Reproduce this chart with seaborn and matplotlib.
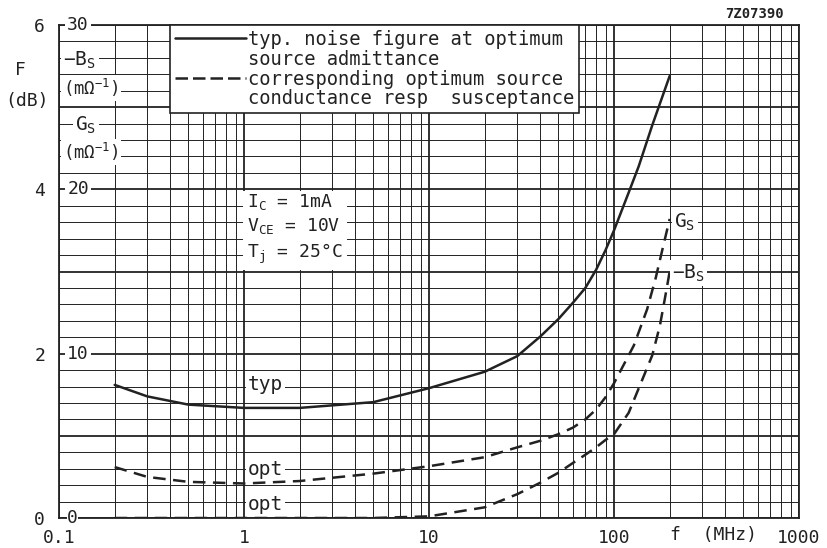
import numpy as np
import pandas as pd
import matplotlib
matplotlib.use("Agg")
import matplotlib.pyplot as plt
from matplotlib.lines import Line2D
from matplotlib.ticker import FixedLocator, NullFormatter, FixedFormatter
import seaborn as sns

# ---- data ----
freq_typ = [0.2, 0.3, 0.5, 1, 2, 5, 10, 20, 30, 40, 50, 60, 70, 80, 90, 100, 120, 136, 161, 200]
F_typ = [1.62, 1.48, 1.38, 1.34, 1.34, 1.41, 1.58, 1.78, 1.97, 2.21, 2.42, 2.62, 2.80, 3.02,
         3.26, 3.50, 3.96, 4.28, 4.78, 5.38]

freq_gs = [0.2, 0.3, 0.5, 1, 2, 5, 10, 20, 30, 40, 50, 60, 70, 80, 90, 100, 128, 151, 168, 185, 200]
Gs = [3.1, 2.5, 2.2, 2.1, 2.25, 2.7, 3.15, 3.7, 4.3, 4.7, 5.1, 5.5, 6.0, 6.6, 7.35, 8.2,
      10.5, 12.7, 14.6, 16.6, 18.2]

freq_bs = [0.2, 1, 5, 10, 20, 30, 40, 50, 60, 70, 80, 90, 100, 120, 142, 161, 177, 188, 200]
Bs = [0.0, 0.0, 0.0, 0.1, 0.65, 1.45, 2.15, 2.75, 3.35, 3.85, 4.3, 4.75, 5.1, 6.4, 8.4,
      9.9, 11.7, 13.3, 15.0]

x_ticks = [0.1, 1, 10, 100, 1000]
x_tick_labels = ["0.1", "1", "10", "100", "1000"]
F_grid = [0, 1, 2, 3, 4, 5, 6]
F_labels = ["0", "", "2", "", "4", "", "6"]
G_ticks = [0, 10, 20, 30]

sns.set_theme(style="white")
MONO = "DejaVu Sans Mono"
plt.rcParams["font.family"] = [MONO, "DejaVu Sans"]
plt.rcParams["mathtext.fontset"] = "custom"
plt.rcParams["mathtext.rm"] = MONO
plt.rcParams["mathtext.it"] = MONO
plt.rcParams["mathtext.bf"] = MONO

fig = plt.figure(figsize=(8.28, 5.48), dpi=100)
ax = fig.add_axes([59 / 828, 30 / 548, 740 / 828, 493 / 548])
ax2 = ax.twinx()

ink = "#222222"
FS = 13

ax.set_xscale("log")

# curves
sns.lineplot(x=freq_typ, y=F_typ, ax=ax, color=ink, lw=1.8, zorder=5)
sns.lineplot(x=freq_gs, y=Gs, ax=ax2, color=ink, lw=1.8, linestyle=(0, (5, 3)), zorder=5)
sns.lineplot(x=freq_bs, y=Bs, ax=ax2, color=ink, lw=1.8, linestyle=(0, (5, 3)), zorder=5)
ax.set_xlim(0.1, 1000)
ax.set_ylim(0, 6)
ax2.set_ylim(0, 30)
ax.set_xlabel("")
ax.set_ylabel("")
ax2.set_ylabel("")

# grid
ax.xaxis.set_major_locator(FixedLocator(x_ticks))
ax.xaxis.set_major_formatter(FixedFormatter(x_tick_labels))
ax.xaxis.set_minor_locator(FixedLocator([m * 10.0 ** e for e in range(-1, 3) for m in range(2, 10)]))
ax.xaxis.set_minor_formatter(NullFormatter())
ax.yaxis.set_major_locator(FixedLocator(F_grid))
ax.yaxis.set_major_formatter(FixedFormatter(F_labels))
ax.yaxis.set_minor_locator(FixedLocator([i * 0.2 for i in range(31)]))
ax.yaxis.set_minor_formatter(NullFormatter())
ax.grid(which="major", color=ink, lw=1.3)
ax.grid(which="minor", color=ink, lw=0.7)
ax.set_axisbelow(True)
ax.tick_params(axis="both", which="both", length=0, labelsize=FS, colors=ink)
ax.tick_params(axis="x", pad=8)
ax.tick_params(axis="y", pad=10)
for s in ax.spines.values():
    s.set_color(ink)
    s.set_linewidth(1.3)
ax2.set_yticks([])
for s in ax2.spines.values():
    s.set_visible(False)

wb = dict(facecolor="white", edgecolor="none", pad=1.5)

# inner G/B scale labels
for v in G_ticks:
    ax2.text(0.011, v, str(v), transform=ax2.get_yaxis_transform(), ha="left", va="center",
             fontsize=FS, color=ink, zorder=6,
             bbox=dict(facecolor="white", edgecolor="none", pad=0 if v == 0 else 1.5))

# axis titles
fig.text(20 / 828, 1 - 70 / 548, "F", ha="center", va="center", fontsize=FS, color=ink)
fig.text(27 / 828, 1 - 101 / 548, "(dB)", ha="center", va="center", fontsize=FS, color=ink)
ax.text(0.006, 1 - 35 / 493, "$-$B$_S$", transform=ax.transAxes, ha="left", va="center",
        fontsize=FS + 1, color=ink, bbox=wb, zorder=6)
ax.text(0.006, 1 - 63 / 493, "(m$\\Omega^{-1}$)", transform=ax.transAxes, ha="left", va="center",
        fontsize=FS - 0.5, color=ink, bbox=wb, zorder=6)
ax.text(0.022, 1 - 100 / 493, "G$_S$", transform=ax.transAxes, ha="left", va="center",
        fontsize=FS + 1, color=ink, bbox=wb, zorder=6)
ax.text(0.006, 1 - 127 / 493, "(m$\\Omega^{-1}$)", transform=ax.transAxes, ha="left", va="center",
        fontsize=FS - 0.5, color=ink, bbox=wb, zorder=6)

# conditions box
ax.text((247 - 59) / 740, 1 - (192 - 25) / 493,
        "I$_C$ = 1mA\nV$_{CE}$ = 10V\nT$_j$ = 25\u00b0C",
        transform=ax.transAxes, ha="left", va="top", fontsize=FS, color=ink,
        linespacing=1.3, bbox=dict(facecolor="white", edgecolor="none", pad=3), zorder=6)

# curve labels
ax.text(1.05, 1.62, "typ", ha="left", va="center", fontsize=FS + 1, color=ink, bbox=wb, zorder=6)
ax.text(1.05, 0.59, "opt", ha="left", va="center", fontsize=FS + 1, color=ink, bbox=wb, zorder=6)
ax.text(1.05, 0.17, "opt", ha="left", va="center", fontsize=FS + 1, color=ink, bbox=wb, zorder=6)
ax2.text(212, 18.0, "G$_S$", ha="left", va="center", fontsize=FS + 1, color=ink, bbox=wb, zorder=6)
ax2.text(205, 14.9, "$-$B$_S$", ha="left", va="center", fontsize=FS + 1, color=ink, bbox=wb, zorder=6)

# x axis unit label and code
fig.text(714 / 828, 1 - 535 / 548, "f  (MHz)", ha="center", va="center", fontsize=FS, color=ink)
fig.text(754 / 828, 1 - 14 / 548, "7Z07390", ha="center", va="center", fontsize=10,
         color=ink, fontweight="bold")

# legend
handles = [Line2D([], [], color=ink, lw=1.8), Line2D([], [], color="none"),
           Line2D([], [], color=ink, lw=1.8, linestyle=(0, (5, 2))), Line2D([], [], color="none")]
labels = ["typ. noise figure at optimum", "source admittance",
          "corresponding optimum source", "conductance resp  susceptance"]
leg = ax2.legend(handles, labels, loc="upper left", bbox_to_anchor=((170 - 59) / 740, 1.0),
                 fontsize=FS + 0.5, frameon=True, fancybox=False, framealpha=1,
                 handlelength=3.8, handletextpad=0.1, labelspacing=0.05,
                 borderpad=0.25, borderaxespad=0, labelcolor=ink)
leg.get_frame().set_edgecolor(ink)
leg.get_frame().set_linewidth(1.2)
leg.set_zorder(10)

fig.savefig("out.png", dpi=100)
